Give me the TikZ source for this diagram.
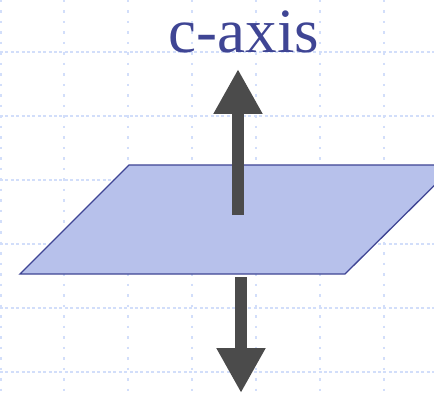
\documentclass[tikz,border=0pt]{standalone}
\usepackage{fontspec}
\setmainfont{Liberation Serif}
\usetikzlibrary{arrows.meta}
\definecolor{ink}{HTML}{3F4594}
\definecolor{plane}{HTML}{B7C1EB}
\definecolor{gridc}{HTML}{D2DEFA}
\definecolor{shaft}{HTML}{4B4B4B}
\tikzset{
  gridln/.style={draw=gridc,line width=1.5pt},
  gridh/.style={gridln,dash pattern=on 3pt off 2.4pt},
  gridv/.style={gridln,dash pattern=on 2.5pt off 8pt},
  planebox/.style={draw=ink,fill=plane,line width=1.3pt,line join=miter},
  axisar/.style={draw=shaft,line width=12pt,-{Triangle[length=45pt,width=46pt]}},
  label/.style={font=\fontsize{63}{63}\selectfont,text=ink,inner sep=0pt,anchor=base},
}
\begin{document}
\begin{tikzpicture}[x=1pt,y=-1pt]
  \useasboundingbox (0,0) rectangle (434,393);
  \clip (0,0) rectangle (434,393);
  % dotted grid
  \foreach \gy in {52,116,180,244,308,372}
    \draw[gridh] (0,\gy) -- (434,\gy);
  \foreach \gx in {1,64,128,192,256,320,384}
    \draw[gridv] (\gx,0) -- (\gx,393);
  % basal plane
  \draw[planebox] (20,274) -- (129,165) -- (455,165) -- (345,274) -- cycle;
  % c-axis arrows
  \coordinate (uptail) at (238,215);
  \coordinate (uptip) at (238,69);
  \coordinate (dntail) at (241,277);
  \coordinate (dntip) at (241,393);
  \draw[axisar] (uptail) -- (uptip);
  \draw[axisar] (dntail) -- (dntip);
  \node[label] (caxis) at (244,53) {c-axis};
\end{tikzpicture}
\end{document}
